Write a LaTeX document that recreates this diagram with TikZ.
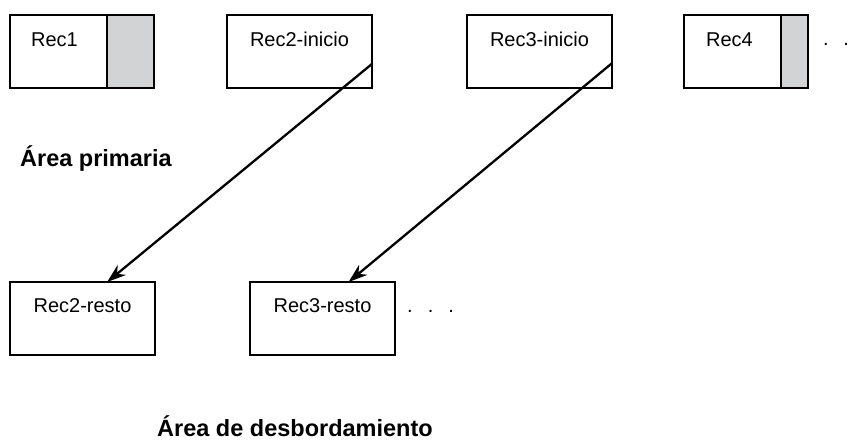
\documentclass[tikz,border=0pt]{standalone}
\usepackage{fontspec}
\setmainfont{Liberation Sans}
\usetikzlibrary{positioning, arrows.meta, calc}
\definecolor{grisrec}{RGB}{209,211,212}

\begin{document}
\begin{tikzpicture}[x=1pt,y=1pt,font=\fontsize{20}{24}\selectfont,
  >={Stealth[length=19pt,width=13pt]},
  caja/.style={draw,line width=1.5pt,minimum height=73pt,inner sep=0pt,outer sep=0pt},
  relleno/.style={caja,fill=grisrec},
  flecha/.style={->,line width=2.3pt},
  area/.style={font=\fontsize{23.5}{28}\selectfont\bfseries,anchor=base west,inner sep=0pt},
  puntos/.style={anchor=base west,inner sep=0pt}]
  \useasboundingbox (0,0) rectangle (862,442);
  % fila de arriba
  \node[caja,minimum width=97pt,label={[anchor=base,xshift=-4pt,yshift=-32pt]north:Rec1}](r1) at (58.5,390.5){};
  \node[relleno,minimum width=47pt,right=0pt of r1](r1g){};
  \node[caja,minimum width=145pt,right=73pt of r1g,label={[anchor=base,yshift=-32pt]north:Rec2-inicio}](r2i){};
  \node[caja,minimum width=145pt,right=95pt of r2i,label={[anchor=base,yshift=-32pt]north:Rec3-inicio}](r3i){};
  \node[caja,minimum width=97pt,right=72pt of r3i,label={[anchor=base,xshift=-3pt,yshift=-32pt]north:Rec4}](r4){};
  \node[relleno,minimum width=27pt,right=0pt of r4](r4g){};
  \node[puntos](p1) at ($(r4g.north east)+(15,-31)$){.\hspace{14.5pt}.};
  % fila de abajo
  \node[caja,minimum width=145pt,label={[anchor=base,yshift=-31pt]north:Rec2-resto}](r2r) at (82.5,123.5){};
  \node[caja,minimum width=145pt,right=95pt of r2r,label={[anchor=base,yshift=-31pt]north:Rec3-resto}](r3r){};
  \node[puntos](p2) at ($(r3r.north east)+(12,-31)$){.\hspace{15pt}.\hspace{15pt}.};
  % flechas
  \draw[flecha]($(r2i.north east)!0.67!(r2i.south east)$)--($(r2r.north west)!0.67!(r2r.north east)$);
  \draw[flecha]($(r3i.north east)!0.66!(r3i.south east)$)--($(r3r.north west)!0.68!(r3r.north east)$);
  % areas
  \node[area](prim) at (20,275){Área primaria};
  \node[area](desb) at (157,6){Área de desbordamiento};
\end{tikzpicture}
\end{document}
